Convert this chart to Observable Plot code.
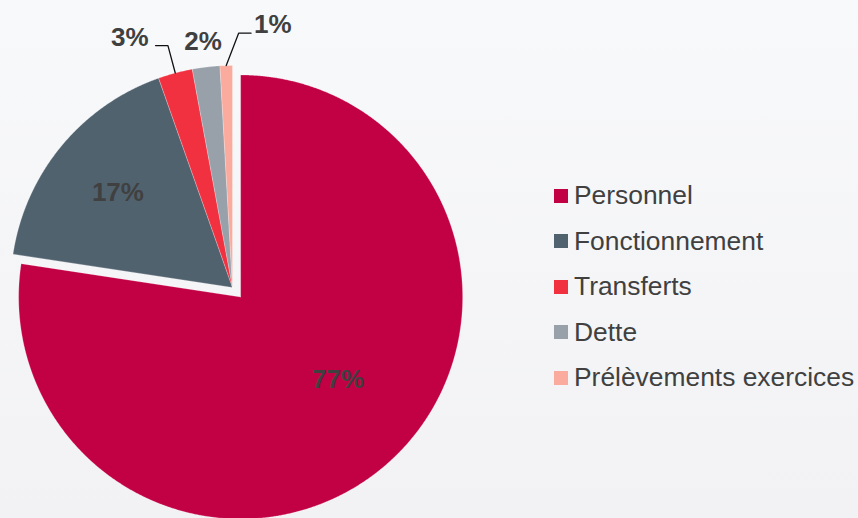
<!DOCTYPE html>
<html><head><meta charset="utf-8">
<script src="https://cdn.jsdelivr.net/npm/d3@7"></script>
<script src="https://cdn.jsdelivr.net/npm/@observablehq/plot@0.6"></script>
<style>
html,body{margin:0;padding:0;}
body{width:858px;height:518px;background:linear-gradient(#f8f9fb,#f2f2f5);font-family:"Liberation Sans",Arial,sans-serif;overflow:hidden;position:relative;}
#chart{position:absolute;left:0;top:0;}
#legend{position:absolute;left:0;top:0;}
.row{position:absolute;left:554px;height:30px;display:flex;align-items:center;white-space:nowrap;font-size:26.4px;color:#404040;}
.sw{width:14px;height:14px;margin-right:6px;flex:none;}
</style></head><body><div id="chart"></div><div id="legend"></div>
<script>
const categories = ["Personnel","Fonctionnement","Transferts","Dette","Prélèvements exercices"];
const values = [77.4, 17.2, 2.5, 2.0, 0.9];
const labels = ["77%","17%","3%","2%","1%"];
const colors = ["#c20044","#51626f","#f23140","#98a0aa","#fbab9e"];

// layout
const W = 858, H = 518, CX = 232, CY = 287, R = 222, EXPLODE = 12.5;
const px = p => p / R;
const deg = Math.PI / 180;
const polar = (a, r, ox = 0, oy = 0) => [ox + r * Math.sin(a), oy + r * Math.cos(a)];

const data = categories.map((c, i) => ({category: c, value: values[i], label: labels[i]}));
const arcs = d3.pie().sort(null).value(d => d.value).startAngle(0).endAngle(2 * Math.PI)(data);

const slicePts = [];
const centers = [];
arcs.forEach((a, i) => {
  const mid = (a.startAngle + a.endAngle) / 2;
  const [ox, oy] = polar(mid, i === 0 ? px(EXPLODE) : 0);
  centers.push({mid, ox, oy});
  const c = a.data.category;
  slicePts.push({category: c, x: ox, y: oy});
  const n = Math.max(2, Math.ceil((a.endAngle - a.startAngle) / (Math.PI / 720)));
  for (let k = 0; k <= n; k++) {
    const t = a.startAngle + (a.endAngle - a.startAngle) * k / n;
    const [x, y] = polar(t, 1, ox, oy);
    slicePts.push({category: c, x, y});
  }
  slicePts.push({category: c, x: ox, y: oy});
});

// label placement
const labelData = [];
const leaders = [];
{
  const c0 = centers[0];
  const [x, y] = polar(c0.mid - 9 * deg, 0.575, c0.ox, c0.oy);
  labelData.push({x, y, text: labels[0], anchor: "middle"});
  const c1 = centers[1];
  const [x1, y1] = polar(c1.mid, 0.67, c1.ox, c1.oy);
  labelData.push({x: x1, y: y1, text: labels[1], anchor: "middle"});
}
{
  const c = centers[3];
  const [x, y] = polar(c.mid, 1.117);
  labelData.push({x, y, text: labels[3], anchor: "middle"});
}
[[2, 0, 1.128, -1, 7], [4, 3 * deg, 1.146, 1, 3]].forEach(([i, dA, rE, side, gap]) => {
  const c = centers[i];
  const [sx, sy] = polar(c.mid, 1);
  const [ex, ey] = polar(c.mid + dA, rE);
  const hx = ex + side * px(12.4);
  leaders.push({id: i, x: sx, y: sy}, {id: i, x: ex, y: ey}, {id: i, x: hx, y: ey});
  labelData.push({x: hx + side * px(gap), y: ey + px(8), text: labels[i], anchor: side < 0 ? "end" : "start"});
});

const textOpts = {x: "x", y: "y", text: "text", fontSize: 26, fontWeight: "bold", fill: "#404040", fontFamily: "Liberation Sans, Arial, sans-serif"};
const plot = Plot.plot({
  width: W, height: H,
  margin: 0,
  style: "background: transparent; overflow: visible;",
  x: {domain: [-CX / R, (W - CX) / R], range: [0, W], axis: null},
  y: {domain: [(CY - H) / R, CY / R], range: [H, 0], axis: null},
  color: {domain: categories, range: colors},
  marks: [
    Plot.line(slicePts, {x: "x", y: "y", z: "category", fill: "category", stroke: "#ffffff", strokeWidth: 0.4, strokeOpacity: 0.6, curve: "linear"}),
    Plot.line(leaders, {x: "x", y: "y", z: "id", stroke: "#111111", strokeWidth: 1.3, curve: "linear"}),
    Plot.text(labelData.filter(d => d.anchor === "middle"), {...textOpts, textAnchor: "middle"}),
    Plot.text(labelData.filter(d => d.anchor === "end"), {...textOpts, textAnchor: "end"}),
    Plot.text(labelData.filter(d => d.anchor === "start"), {...textOpts, textAnchor: "start"})
  ]
});
document.getElementById("chart").append(plot);

// legend
const legend = d3.select("#legend");
categories.forEach((c, i) => {
  const row = legend.append("div").attr("class", "row").style("top", (195.5 + i * 45.5 - 15) + "px");
  row.append("div").attr("class", "sw").style("background", colors[i]);
  row.append("span").text(c);
});
</script>
</body></html>
